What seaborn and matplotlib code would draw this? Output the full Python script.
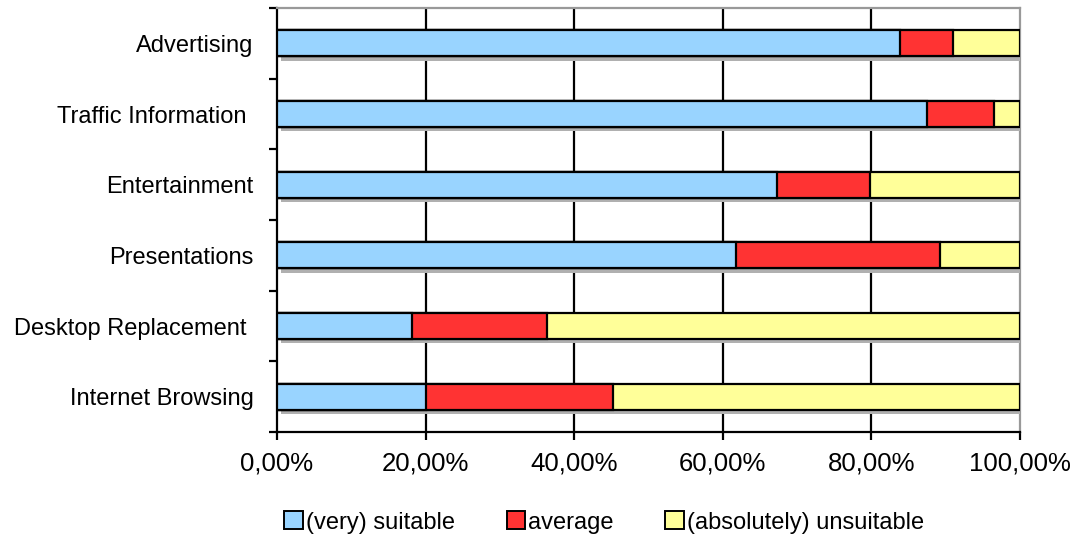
import seaborn as sns
import matplotlib.pyplot as plt
import matplotlib.patheffects as pe
from matplotlib.patches import Patch
import numpy as np

categories = ["Advertising", "Traffic Information ", "Entertainment", "Presentations",
              "Desktop Replacement ", "Internet Browsing"]
suitable = [83.8, 87.5, 67.3, 61.8, 18.2, 20.0]
average = [7.2, 9.0, 12.5, 27.4, 18.1, 25.2]
unsuitable = [9.0, 3.5, 20.2, 10.8, 63.7, 54.8]
series = ["(very) suitable", "average", "(absolutely) unsuitable"]
colors = ["#99d4ff", "#ff3333", "#ffff99"]

sns.set_style("white")
plt.rcParams["font.family"] = ["Liberation Sans", "DejaVu Sans"]
plt.rcParams["text.color"] = "black"
plt.rcParams["xtick.color"] = "black"
plt.rcParams["ytick.color"] = "black"

fig = plt.figure(figsize=(10.7, 5.35), dpi=100)
ax = fig.add_axes([0.2589, 0.1925, 0.6944, 0.7925])

s1 = np.array(suitable)
s2 = s1 + np.array(average)
s3 = s2 + np.array(unsuitable)

for vals, col, shadow in [(s3, colors[2], True), (s2, colors[1], False), (s1, colors[0], False)]:
    n0 = len(ax.patches)
    sns.barplot(x=vals, y=categories, orient="h", color=col, width=0.37,
                edgecolor="black", linewidth=1.6, saturation=1, ax=ax, zorder=3)
    if shadow:
        for p in ax.patches[n0:]:
            p.set_path_effects([pe.SimplePatchShadow(offset=(3, -3), shadow_rgbFace="#b0b0b0", alpha=1),
                                pe.Normal()])

ax.set_xlim(0, 100)
ax.set_ylim(5.5, -0.5)
ax.set_xticks([0, 20, 40, 60, 80, 100])
ax.set_xticklabels(["0,00%", "20,00%", "40,00%", "60,00%", "80,00%", "100,00%"], fontsize=18.5)
ax.set_yticks(range(len(categories)))
ax.set_yticklabels(categories, fontsize=17)
ax.set_yticks(np.arange(-0.5, 6, 1), minor=True)
ax.tick_params(axis="y", which="major", length=0, pad=17)
ax.tick_params(axis="y", which="minor", length=6, width=1.6, color="black", left=True)
ax.tick_params(axis="x", which="major", length=6, width=1.6, color="black", bottom=True, pad=8)
ax.set_xlabel("")
ax.set_ylabel("")

for xv in [20, 40, 60, 80]:
    ax.axvline(xv, color="black", linewidth=1.6, zorder=1)

ax.spines["left"].set_color("black")
ax.spines["left"].set_linewidth(1.6)
ax.spines["bottom"].set_color("black")
ax.spines["bottom"].set_linewidth(1.6)
ax.spines["top"].set_color("#999999")
ax.spines["top"].set_linewidth(1.6)
ax.spines["right"].set_color("#999999")
ax.spines["right"].set_linewidth(1.6)

handles = [Patch(facecolor=c, edgecolor="black", linewidth=1.4) for c in colors]
fig.legend(handles, series, loc="lower center", bbox_to_anchor=(0.5645, -0.037), ncol=3,
           frameon=False, fontsize=17, handlelength=0.8, handleheight=0.8,
           handletextpad=0.1, columnspacing=2.2)

fig.savefig("out.png", dpi=100)
